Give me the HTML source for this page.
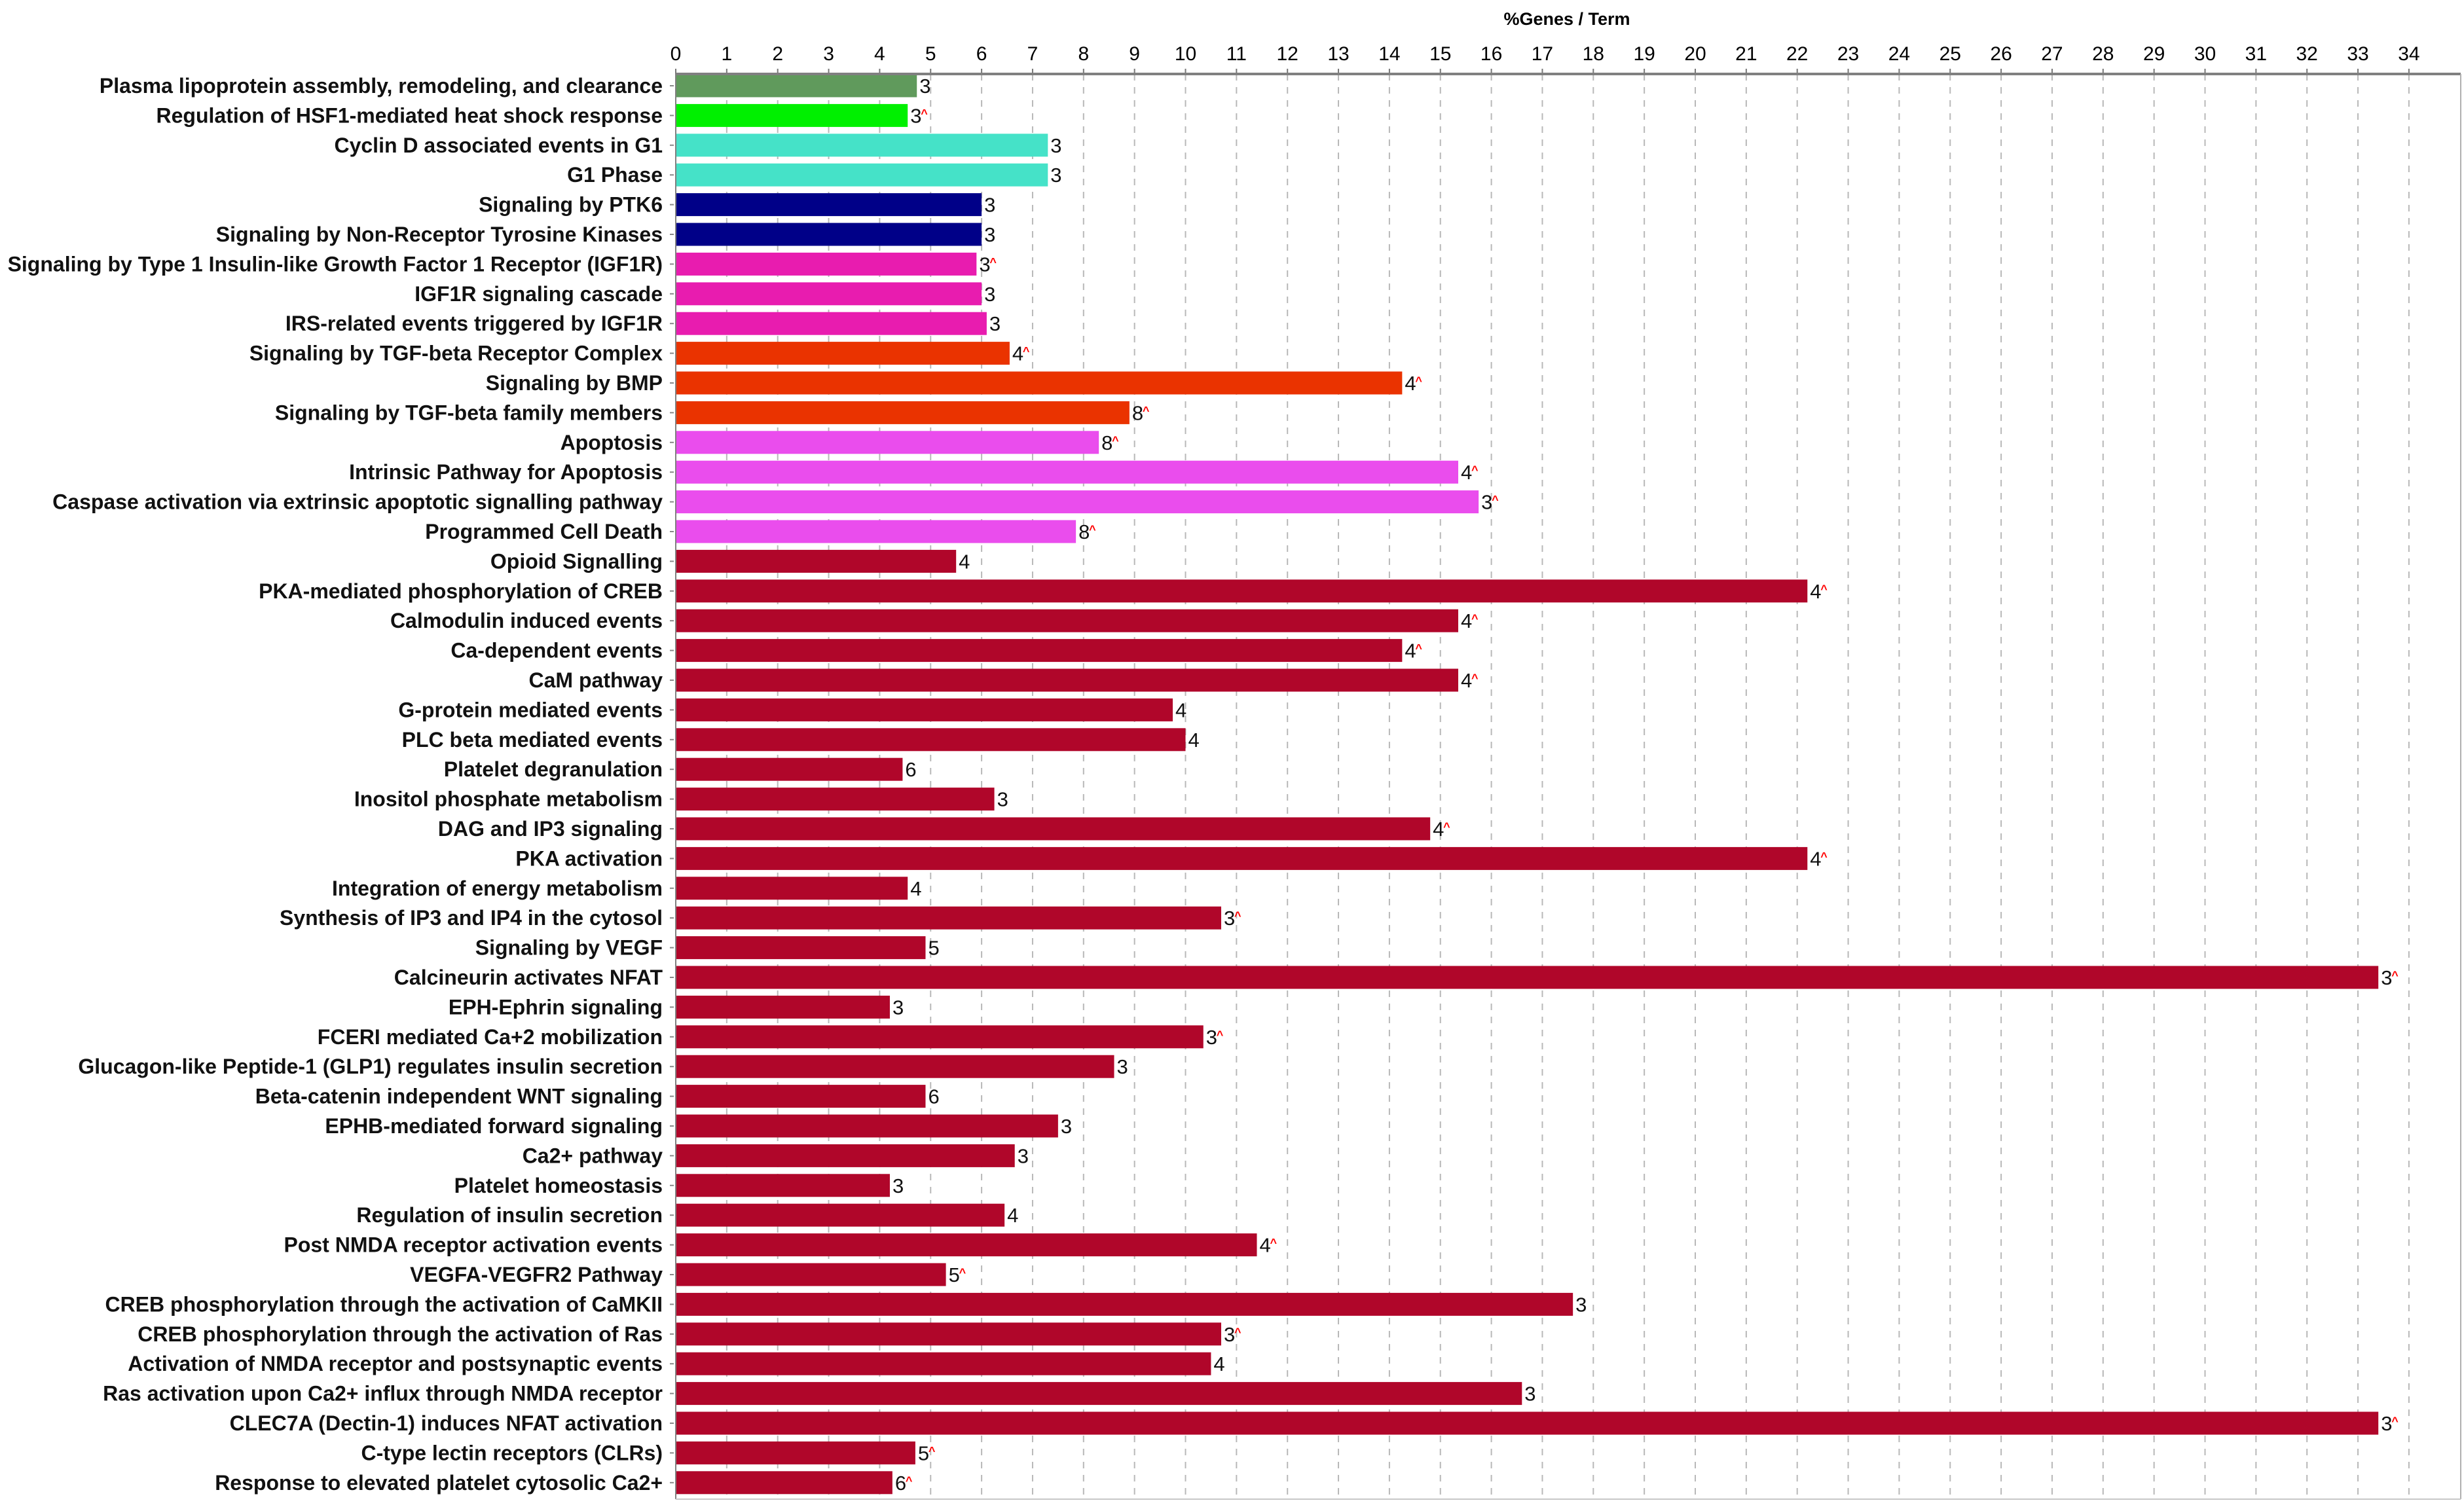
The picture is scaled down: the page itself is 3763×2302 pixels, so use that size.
<!DOCTYPE html>
<html><head><meta charset="utf-8">
<style>
html,body{margin:0;padding:0;background:#fff;}
svg{display:block;font-family:"Liberation Sans",Arial,sans-serif;}
</style></head>
<body>
<svg id="chart" width="3763" height="2302" viewBox="0 0 3763 2302" xmlns="http://www.w3.org/2000/svg">
<text x="2393" y="38" text-anchor="middle" font-size="27" font-weight="bold">%Genes / Term</text>
<g id="grid"></g>
<g id="bars"></g>
<g id="axes"></g>
</svg>
<script>
const categories = ["Plasma lipoprotein assembly, remodeling, and clearance","Regulation of HSF1-mediated heat shock response","Cyclin D associated events in G1","G1 Phase","Signaling by PTK6","Signaling by Non-Receptor Tyrosine Kinases","Signaling by Type 1 Insulin-like Growth Factor 1 Receptor (IGF1R)","IGF1R signaling cascade","IRS-related events triggered by IGF1R","Signaling by TGF-beta Receptor Complex","Signaling by BMP","Signaling by TGF-beta family members","Apoptosis","Intrinsic Pathway for Apoptosis","Caspase activation via extrinsic apoptotic signalling pathway","Programmed Cell Death","Opioid Signalling","PKA-mediated phosphorylation of CREB","Calmodulin induced events","Ca-dependent events","CaM pathway","G-protein mediated events","PLC beta mediated events","Platelet degranulation ","Inositol phosphate metabolism","DAG and IP3 signaling","PKA activation","Integration of energy metabolism","Synthesis of IP3 and IP4 in the cytosol","Signaling by VEGF","Calcineurin activates NFAT","EPH-Ephrin signaling","FCERI mediated Ca+2 mobilization","Glucagon-like Peptide-1 (GLP1) regulates insulin secretion","Beta-catenin independent WNT signaling","EPHB-mediated forward signaling","Ca2+ pathway","Platelet homeostasis","Regulation of insulin secretion","Post NMDA receptor activation events","VEGFA-VEGFR2 Pathway","CREB phosphorylation through the activation of CaMKII","CREB phosphorylation through the activation of Ras","Activation of NMDA receptor and postsynaptic events","Ras activation upon Ca2+ influx through NMDA receptor","CLEC7A (Dectin-1) induces NFAT activation","C-type lectin receptors (CLRs)","Response to elevated platelet cytosolic Ca2+"];
const percentValues = [4.73,4.55,7.3,7.3,6.0,6.0,5.9,6.0,6.1,6.55,14.25,8.9,8.3,15.35,15.75,7.85,5.5,22.2,15.35,14.25,15.35,9.75,10.0,4.45,6.25,14.8,22.2,4.55,10.7,4.9,33.4,4.2,10.35,8.6,4.9,7.5,6.65,4.2,6.45,11.4,5.3,17.6,10.7,10.5,16.6,33.4,4.7,4.25];
const geneCounts = ["3","3","3","3","3","3","3","3","3","4","4","8","8","4","3","8","4","4","4","4","4","4","4","6","3","4","4","4","3","5","3","3","3","3","6","3","3","3","4","4","5","3","3","4","3","3","5","6"];
const flagged = [0,1,0,0,0,0,1,0,0,1,1,1,1,1,1,1,0,1,1,1,1,0,0,0,0,1,1,0,1,0,1,0,1,0,0,0,0,0,0,1,1,0,1,0,0,1,1,1];
const groupColors = ["#609a5c","#00f000","#45e2c8","#45e2c8","#000088","#000088","#e81caf","#e81caf","#e81caf","#ea3300","#ea3300","#ea3300","#ea4ded","#ea4ded","#ea4ded","#ea4ded"];
const tickValues = [0,1,2,3,4,5,6,7,8,9,10,11,12,13,14,15,16,17,18,19,20,21,22,23,24,25,26,27,28,29,30,31,32,33,34];

const NS = "http://www.w3.org/2000/svg";
const X0 = 1032, UNIT = 77.85, TOP = 113, BOTTOM = 2290, RIGHT = 3758;
const ROW0 = 131, ROWH = 45.4, BARH = 35;
const xScale = v => X0 + v * UNIT;
const yScale = i => ROW0 + i * ROWH;
function mk(tag, attrs, parent){ const e=document.createElementNS(NS,tag); for(const k in attrs) e.setAttribute(k,attrs[k]); parent.appendChild(e); return e; }

const grid = document.getElementById('grid'), bars = document.getElementById('bars'), axes = document.getElementById('axes');
tickValues.forEach(t => {
  const x = xScale(t);
  if (t > 0) {
    const gl = mk('line',{x1:x,x2:x,y1:TOP,y2:BOTTOM,stroke:'#b8b8b8','stroke-width':2,'stroke-dasharray':'10,10'},grid);
    
    
  }
  const tk = mk('line',{x1:x,x2:x,y1:TOP-8,y2:TOP,stroke:'#777','stroke-width':2},axes);
  
  
  const tl = mk('text',{x:x,y:92,'text-anchor':'middle','font-size':30},axes);
  tl.textContent = t;
  
  
});
const ax = mk('line',{x1:X0,x2:RIGHT,y1:TOP,y2:TOP,stroke:'#808080','stroke-width':4},axes);


const ay = mk('line',{x1:X0,x2:X0,y1:TOP,y2:BOTTOM,stroke:'#808080','stroke-width':2},axes);


const ar = mk('line',{x1:RIGHT,x2:RIGHT,y1:TOP,y2:BOTTOM,stroke:'#b0b0b0','stroke-width':2},axes);


const ab = mk('line',{x1:X0,x2:RIGHT,y1:BOTTOM,y2:BOTTOM,stroke:'#c8c8c8','stroke-width':2},axes);



categories.forEach((c,i) => {
  const cy = yScale(i), v = percentValues[i];
  const color = i < groupColors.length ? groupColors[i] : '#b0062a';
  const r = mk('rect',{x:X0,y:cy-BARH/2,width:xScale(v)-X0,height:BARH,fill:color},bars);
  
  
  const lt = mk('line',{x1:X0-9,x2:X0-3,y1:cy,y2:cy,stroke:'#888','stroke-width':2},axes);
  
  
  const lab = mk('text',{x:1012,y:cy+11,'text-anchor':'end','font-size':32,'font-weight':'bold',fill:'#111'},axes);
  lab.textContent = c;
  
  
  const vt = mk('text',{x:xScale(v)+4,y:cy+11,'font-size':31,fill:'#111'},bars);
  vt.textContent = geneCounts[i];
  
  
  if (flagged[i]) {
    const fm = mk('text',{x:xScale(v)+20,y:cy+3,'font-size':18,'font-weight':'bold',fill:'#ff0000'},bars);
    fm.textContent = '^';
    
    
  }
});
</script>
</body></html>
